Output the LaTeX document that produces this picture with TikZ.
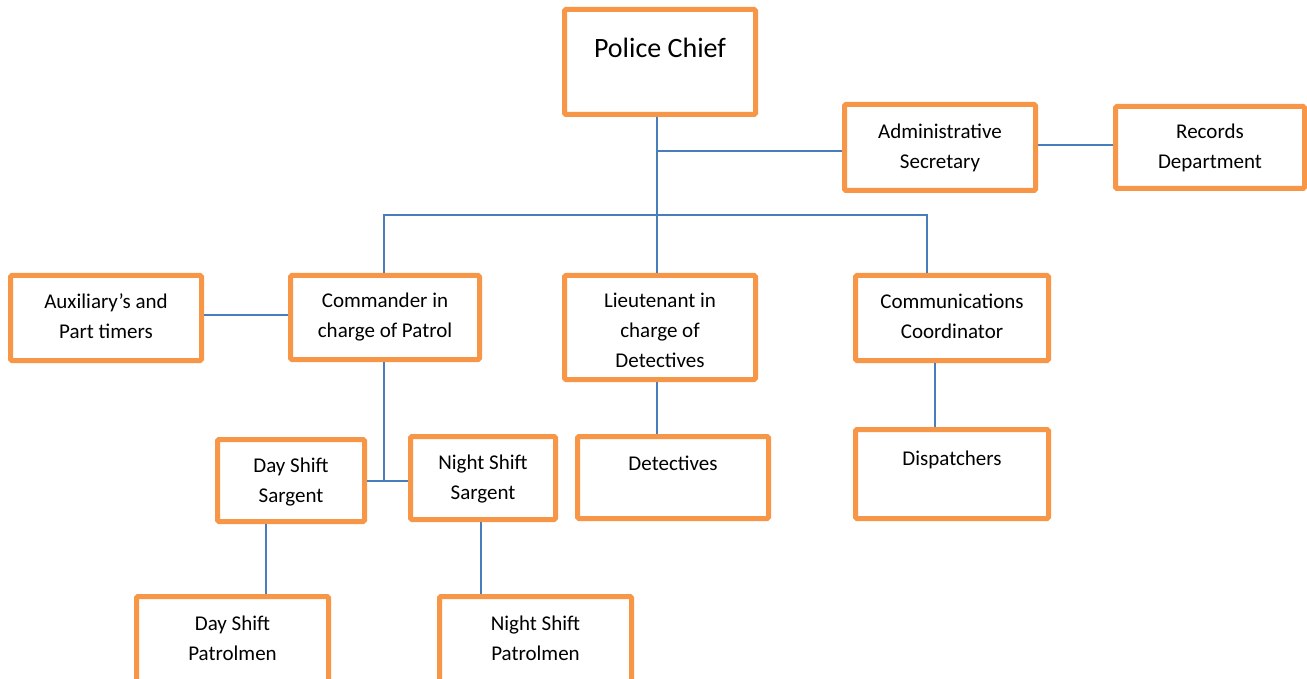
\documentclass[tikz,border=0pt]{standalone}
\usepackage{fontspec}
\setmainfont{Carlito}
\usetikzlibrary{calc}
\definecolor{boxorange}{HTML}{F79646}
\definecolor{lineblue}{HTML}{4A7EBB}
\tikzset{
  orgbox/.style={draw=boxorange, line width=5pt, fill=white, rounded corners=1.5pt, inner sep=0pt},
  orgtxt/.style={anchor=north, align=center, inner sep=0pt, text=black, font=\fontsize{21}{30}\selectfont},
  bigtxt/.style={anchor=north, align=center, inner sep=0pt, text=black, font=\fontsize{28}{34}\selectfont},
  link/.style={draw=lineblue, line width=1.8pt}
}
\begin{document}
\begin{tikzpicture}[x=1pt,y=-1pt]
\useasboundingbox (0,0) rectangle (1307,679);
\clip (0,0) rectangle (1307,679);
% boxes
\node[orgbox, minimum width=191pt, minimum height=105pt] (pc)  at (660,62) {};
\node[orgbox, minimum width=191pt, minimum height=86pt]  (adm) at (940,147.5) {};
\node[orgbox, minimum width=189pt, minimum height=82pt]  (rec) at (1210,147.5) {};
\node[orgbox, minimum width=191pt, minimum height=85pt]  (aux) at (106,318) {};
\node[orgbox, minimum width=189pt, minimum height=84pt]  (cm)  at (385,317.5) {};
\node[orgbox, minimum width=191pt, minimum height=104pt] (lt)  at (660,327.5) {};
\node[orgbox, minimum width=193pt, minimum height=85pt]  (cc)  at (952,318) {};
\node[orgbox, minimum width=193pt, minimum height=89pt]  (dsp) at (952,474) {};
\node[orgbox, minimum width=147pt, minimum height=82pt]  (ds)  at (291,480.5) {};
\node[orgbox, minimum width=145pt, minimum height=83pt]  (ns)  at (483,478) {};
\node[orgbox, minimum width=191pt, minimum height=82pt]  (dt)  at (673,477.5) {};
\node[orgbox, minimum width=192pt, minimum height=101pt] (dp)  at (232.5,647) {};
\node[orgbox, minimum width=192pt, minimum height=101pt] (np)  at (535.5,647) {};
% texts
\node[bigtxt] (pct)  at (660,33.2)  {\strut Police Chief};
\node[orgtxt] (admt) at (940,117)   {\strut Administrative\\Secretary};
\node[orgtxt] (rect) at (1210,117)  {\strut Records\\Department};
\node[orgtxt] (auxt) at (106,287)   {\strut Auxiliary’s and\\Part timers};
\node[orgtxt] (cmt)  at (385,286)   {\strut Commander in\\charge of Patrol};
\node[orgtxt] (ltt)  at (660,286)   {\strut Lieutenant in\\charge of\\Detectives};
\node[orgtxt] (cct)  at (952,287)   {\strut Communications\\Coordinator};
\node[orgtxt] (dspt) at (952,444)   {\strut Dispatchers};
\node[orgtxt] (dst)  at (291,451)   {\strut Day Shift\\Sargent};
\node[orgtxt] (nst)  at (483,448)   {\strut Night Shift\\Sargent};
\node[orgtxt] (dtt)  at (673,449)   {\strut Detectives};
\node[orgtxt] (dpt)  at (232.5,609) {\strut Day Shift\\Patrolmen};
\node[orgtxt] (npt)  at (535.5,609) {\strut Night Shift\\Patrolmen};
% connectors
\coordinate (bus) at (657,215);
\coordinate (sb)  at (384,481);
\draw[link] ([xshift=-3pt]pc.south) -- ([xshift=-3pt]lt.north);
\draw[link] ([yshift=-3.5pt]adm.west) -- ([yshift=-3.5pt]adm.west -| bus);
\draw[link] ([yshift=2.5pt]adm.east) -- ([yshift=2.5pt]rec.west);
\draw[link] ([xshift=-1pt]cm.north) |- (bus) -| ([xshift=-25pt]cc.north);
\draw[link] ([yshift=3pt]aux.east) -- ([yshift=3pt]aux.east -| cm.west);
\draw[link] ([xshift=-1pt]cm.south) -- (sb);
\draw[link] (ds.east |- sb) -- (ns.west |- sb);
\draw[link] ([xshift=-3pt]lt.south) -- ([xshift=-3pt]lt.south |- dt.north);
\draw[link] ([xshift=-17pt]cc.south) -- ([xshift=-17pt]dsp.north);
\draw[link] ([xshift=-25pt]ds.south) -- ([xshift=-25pt]ds.south |- dp.north);
\draw[link] ([xshift=-2pt]ns.south) -- ([xshift=-2pt]ns.south |- np.north);
\end{tikzpicture}
\end{document}
